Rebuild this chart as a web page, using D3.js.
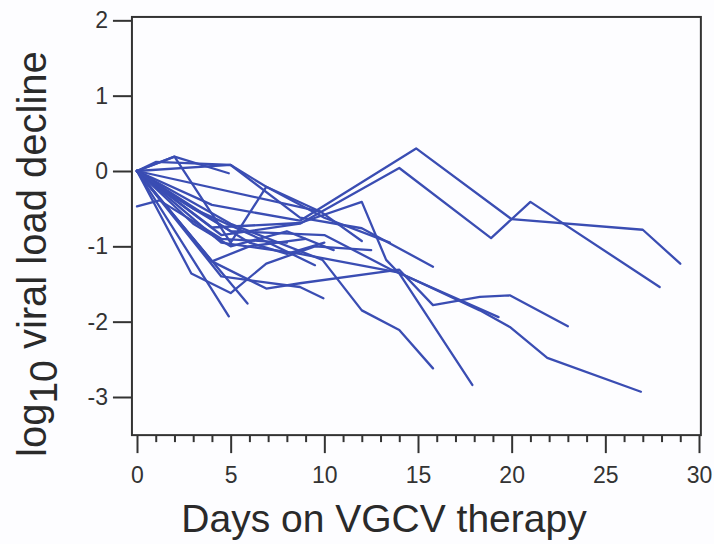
<!DOCTYPE html>
<html><head><meta charset="utf-8">
<script src="https://cdn.jsdelivr.net/npm/d3@7"></script>
<style>html,body{margin:0;padding:0;background:#fdfdff;} svg{display:block;}</style>
</head><body><svg id="c" width="714" height="544"></svg>
<script>
// ---- data ----
const xTicks = [0, 5, 10, 15, 20, 25, 30];
const yTicks = [2, 1, 0, -1, -2, -3];
const xTitle = "Days on VGCV therapy";
const yTitleParts = ["log", "10", " viral load decline"];

// each patient: [day, log10 decline]
const p01 = [[0,0],[4,-0.45],[8.7,-0.66],[14.9,0.30],[20,-0.64],[27,-0.78],[29,-1.23]];
const p02 = [[0,0],[4.5,-0.85],[8.7,-0.70],[14,0.04],[18.9,-0.89],[21,-0.41],[27.9,-1.54]];
const p03 = [[0,0],[2,0.19],[4.9,-0.03]];
const p04 = [[0,0],[5,0.08],[8.7,-0.62],[12,-0.76],[15.8,-1.27]];
const p05 = [[0,0],[4,-0.75],[8.7,-0.69],[12,-0.41],[13.3,-1.18],[14,-1.36],[17.9,-2.84]];
const p06 = [[0,0],[5,-0.7],[9.9,-1.18],[12,-1.85],[14,-2.11],[15.8,-2.62]];
const p07 = [[0,0],[4,-1.2],[6.9,-1.56],[8.7,-1.49],[14,-1.31],[15.8,-1.78],[18.3,-1.67],[19.9,-1.65],[23,-2.06]];
const p08 = [[0,0],[4.5,-0.95],[8.7,-1.1],[14,-1.35],[18.3,-1.85],[19.9,-2.07],[21.9,-2.48],[26.9,-2.93]];
const p09 = [[0,0],[5,-0.8],[10,-0.85],[13.5,-1.3],[19.3,-1.94]];
const p10 = [[0,0],[4.9,-1.93]];
const p11 = [[0,0],[5.9,-1.76]];
const p12 = [[0,0],[2.9,-1.36],[5,-1.62],[6.9,-1.23],[9.5,-1.0],[12.5,-1.05]];
const p13 = [[0,-0.47],[1.2,-0.39],[4.5,-0.9],[8,-0.95]];
const p14 = [[0,0],[2,0.19],[5,-0.95],[6.9,-0.21],[10,-0.62],[13.5,-0.95]];
const p15 = [[0,0],[1,0.12],[5,0.08],[6.9,-0.21],[9.8,-0.54]];
const p16 = [[0,0],[9.8,-0.54],[12,-0.93]];
const p17 = [[0,0],[3,-0.7],[5,-1.0],[8,-0.8],[10.5,-1.05]];
const p18 = [[0,0],[4,-1.2],[6,-1.0],[9,-0.9]];
const p19 = [[0,0],[3,-0.5],[7,-0.95],[9.5,-1.25]];
const p20 = [[0,0],[4.5,-1.4],[8.7,-1.54],[9.95,-1.69]];
const p21 = [[0,0],[2,-0.35],[6,-0.95],[8,-1.1],[10,-0.95]];
const patients = [p01,p02,p03,p04,p05,p06,p07,p08,p09,p10,p11,p12,p13,p14,p15,p16,p17,p18,p19,p20,p21];

// ---- drawing ----
const svg = d3.select("#c");
const x = d3.scaleLinear().domain([0, 30]).range([137, 699]);
const y = d3.scaleLinear().domain([0, -3]).range([171, 397]);
const font = "'Liberation Sans', Arial, Helvetica, sans-serif";
const lineCol = "#3a4db3";
const axisCol = "#333";

const box = {x0: x(-0.27), x1: x(30.1), y0: y(2.045), y1: y(-3.506)};

// lines
const line = d3.line().x(d => x(d[0])).y(d => y(d[1]));
svg.append("g").selectAll("path").data(patients).join("path")
  .attr("d", line).attr("fill", "none").attr("stroke", lineCol)
  .attr("stroke-width", 2.3).attr("stroke-linejoin", "round").attr("stroke-linecap", "round");

// frame
svg.append("rect").attr("x", box.x0).attr("y", box.y0)
  .attr("width", box.x1 - box.x0).attr("height", box.y1 - box.y0)
  .attr("fill", "none").attr("stroke", axisCol).attr("stroke-width", 2);

// x minor ticks
const minor = d3.range(0, 31).filter(d => d % 5 !== 0);
svg.append("g").attr("transform", `translate(0,${box.y1})`)
  .call(d3.axisBottom(x).tickValues(minor).tickSize(7).tickFormat(""))
  .call(g => g.select(".domain").remove())
  .call(g => g.selectAll("line").attr("stroke", axisCol).attr("stroke-width", 2));
// x major ticks
svg.append("g").attr("transform", `translate(0,${box.y1})`)
  .call(d3.axisBottom(x).tickValues(xTicks).tickSize(18).tickPadding(14).tickFormat(d => String(d)))
  .call(g => g.select(".domain").remove())
  .call(g => g.selectAll("line").attr("stroke", axisCol).attr("stroke-width", 2))
  .call(g => g.selectAll("text").attr("font-family", font).attr("font-size", 23).attr("fill", "#333"));

// y ticks
svg.append("g").attr("transform", `translate(${box.x0},0)`)
  .call(d3.axisLeft(y).tickValues(yTicks).tickSize(19).tickPadding(5).tickFormat(d => String(d)))
  .call(g => g.select(".domain").remove())
  .call(g => g.selectAll("line").attr("stroke", axisCol).attr("stroke-width", 2))
  .call(g => g.selectAll("text").attr("font-family", font).attr("font-size", 23).attr("fill", "#333"));

// x title
svg.append("text").attr("x", 384).attr("y", 532).attr("text-anchor", "middle")
  .attr("font-family", font).attr("font-size", 39).attr("fill", "#2a2a2a").text(xTitle);

// y title
const yt = svg.append("text").attr("transform", "translate(46,457) rotate(-90)")
  .attr("font-family", font).attr("font-size", 40).attr("fill", "#2a2a2a");
yt.append("tspan").text(yTitleParts[0]);
yt.append("tspan").attr("dy", 11).attr("font-size", 39).text(yTitleParts[1]);
yt.append("tspan").attr("dy", -11).text(yTitleParts[2]);
</script></body></html>
